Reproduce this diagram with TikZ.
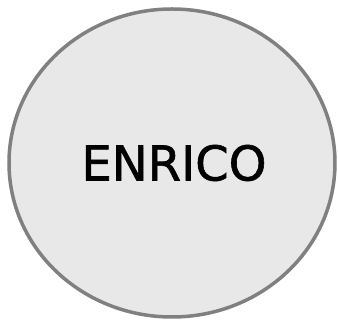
\documentclass[tikz,border=0pt]{standalone}
\usepackage{fontspec}
\setmainfont{DejaVu Sans}[FakeBold=1.2]
\usetikzlibrary{shapes.geometric}
\definecolor{rimgray}{HTML}{808080}
\definecolor{fillgray}{HTML}{E8E8E8}

\begin{document}
\begin{tikzpicture}[
        x=1pt, y=1pt,
        person/.style={ellipse, draw=rimgray, fill=fillgray, line width=3.5pt,
            minimum width=326pt, minimum height=308pt, inner sep=0pt,
            font=\fontsize{48}{56}\selectfont},
    ]
        \useasboundingbox (0,0) rectangle (338,320);
        % Person
        \node[person] (enrico) at (172,157) {\hspace{4pt}ENRICO};
    \end{tikzpicture}
\end{document}
